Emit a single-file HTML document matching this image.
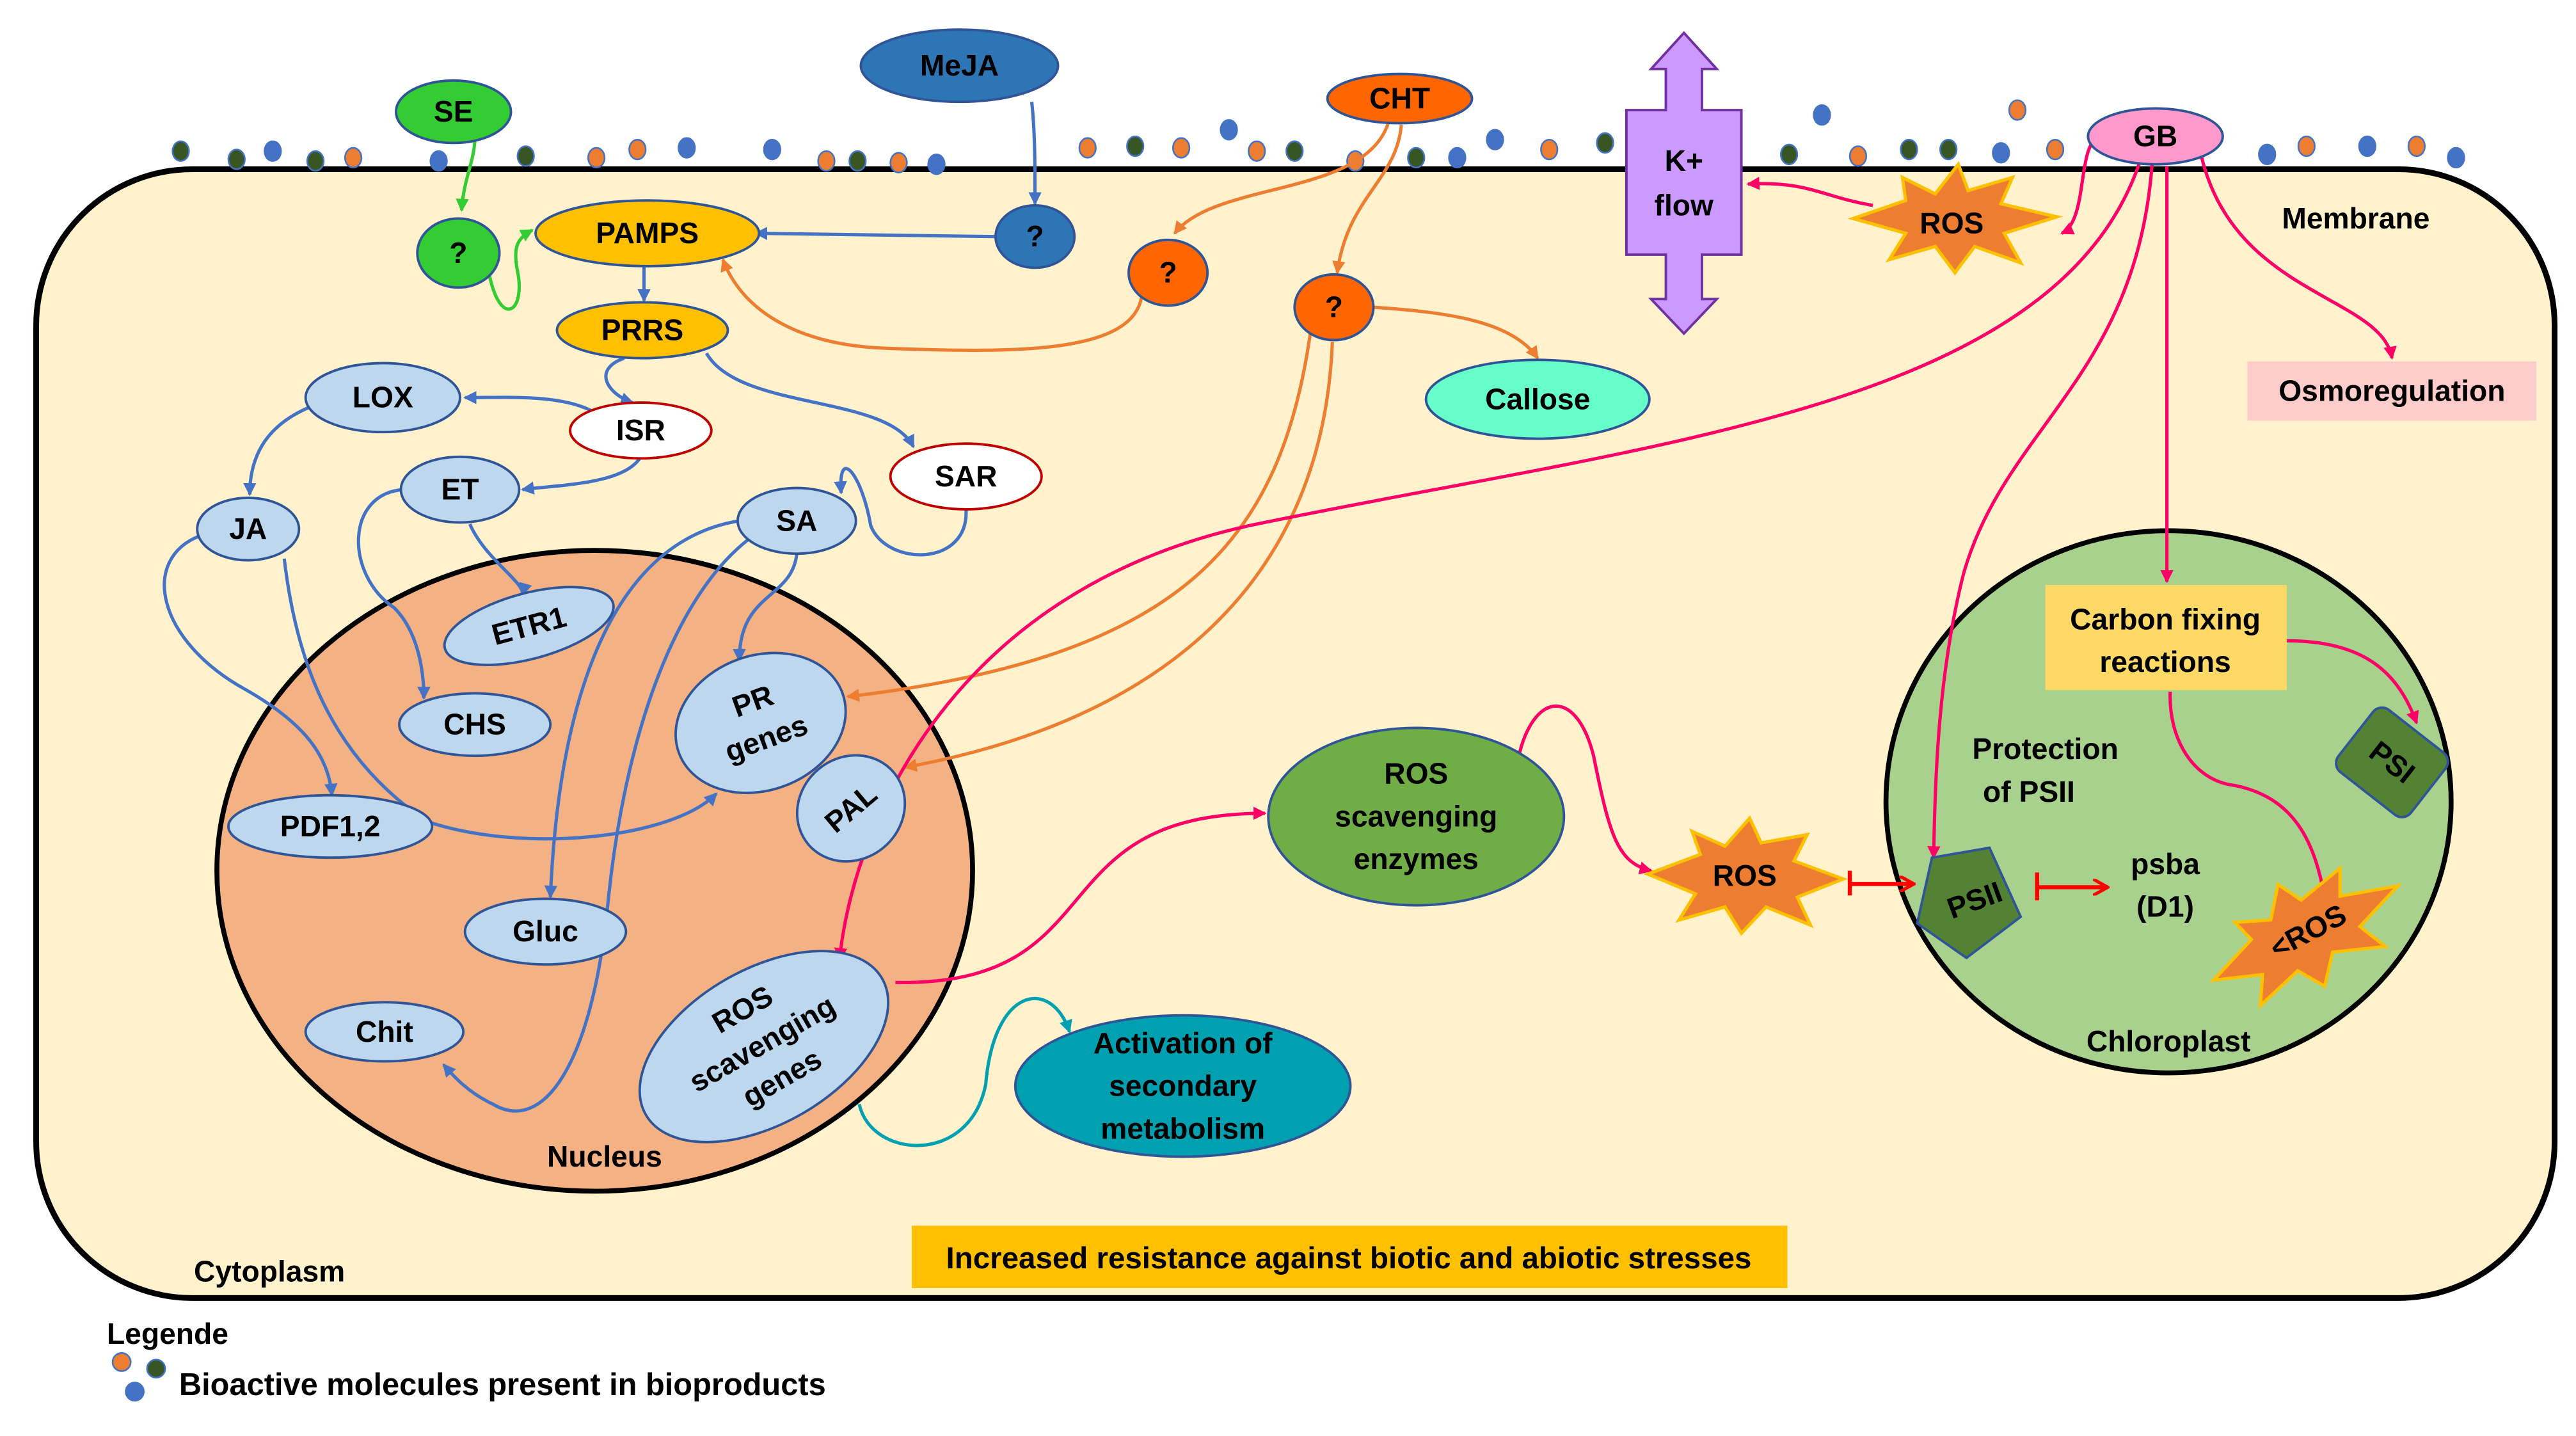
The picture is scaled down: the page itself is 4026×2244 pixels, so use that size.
<!DOCTYPE html>
<html><head><meta charset="utf-8"><style>
html,body{margin:0;padding:0;background:#fff;}
svg{display:block;}
text{font-family:"Liberation Sans",sans-serif;font-weight:bold;fill:#000;}
</style></head><body>
<svg width="4026" height="2244" viewBox="0 0 1568 874" xmlns="http://www.w3.org/2000/svg">
<defs>
<marker id="ab" markerWidth="8" markerHeight="8" refX="7" refY="4" orient="auto" markerUnits="userSpaceOnUse"><path d="M0,0 L8,4 L0,8 z" fill="#4472c4"/></marker>
<marker id="ao" markerWidth="8" markerHeight="8" refX="7" refY="4" orient="auto" markerUnits="userSpaceOnUse"><path d="M0,0 L8,4 L0,8 z" fill="#ed7d31"/></marker>
<marker id="ap" markerWidth="8" markerHeight="8" refX="7" refY="4" orient="auto" markerUnits="userSpaceOnUse"><path d="M0,0 L8,4 L0,8 z" fill="#ff0066"/></marker>
<marker id="at" markerWidth="8" markerHeight="8" refX="7" refY="4" orient="auto" markerUnits="userSpaceOnUse"><path d="M0,0 L8,4 L0,8 z" fill="#00a0b0"/></marker>
<marker id="ag" markerWidth="8" markerHeight="8" refX="7" refY="4" orient="auto" markerUnits="userSpaceOnUse"><path d="M0,0 L8,4 L0,8 z" fill="#33cc33"/></marker>
<marker id="ar" markerWidth="10" markerHeight="10" refX="9" refY="5" orient="auto" markerUnits="userSpaceOnUse"><path d="M0,0 L9,5 L0,10" fill="none" stroke="#ff0000" stroke-width="2"/></marker>
</defs>
<rect x="22" y="103" width="1533" height="687" rx="95" ry="95" fill="#fff2cc" stroke="#000" stroke-width="3.5"/>
<g stroke="#4472c4" stroke-width="1">
<ellipse cx="110" cy="92" rx="5" ry="6" fill="#375623"/>
<ellipse cx="144" cy="97" rx="5" ry="6" fill="#375623"/>
<ellipse cx="166" cy="92" rx="5" ry="6" fill="#4472c4"/>
<ellipse cx="192" cy="98" rx="5" ry="6" fill="#375623"/>
<ellipse cx="215" cy="96" rx="5" ry="6" fill="#ed7d31"/>
<ellipse cx="267" cy="98" rx="5" ry="6" fill="#4472c4"/>
<ellipse cx="320" cy="95" rx="5" ry="6" fill="#375623"/>
<ellipse cx="363" cy="96" rx="5" ry="6" fill="#ed7d31"/>
<ellipse cx="388" cy="91" rx="5" ry="6" fill="#ed7d31"/>
<ellipse cx="418" cy="90" rx="5" ry="6" fill="#4472c4"/>
<ellipse cx="470" cy="91" rx="5" ry="6" fill="#4472c4"/>
<ellipse cx="503" cy="98" rx="5" ry="6" fill="#ed7d31"/>
<ellipse cx="522" cy="98" rx="5" ry="6" fill="#375623"/>
<ellipse cx="547" cy="99" rx="5" ry="6" fill="#ed7d31"/>
<ellipse cx="570" cy="100" rx="5" ry="6" fill="#4472c4"/>
<ellipse cx="662" cy="90" rx="5" ry="6" fill="#ed7d31"/>
<ellipse cx="691" cy="89" rx="5" ry="6" fill="#375623"/>
<ellipse cx="719" cy="90" rx="5" ry="6" fill="#ed7d31"/>
<ellipse cx="748" cy="79" rx="5" ry="6" fill="#4472c4"/>
<ellipse cx="765" cy="92" rx="5" ry="6" fill="#ed7d31"/>
<ellipse cx="788" cy="92" rx="5" ry="6" fill="#375623"/>
<ellipse cx="825" cy="98" rx="5" ry="6" fill="#ed7d31"/>
<ellipse cx="862" cy="96" rx="5" ry="6" fill="#375623"/>
<ellipse cx="887" cy="96" rx="5" ry="6" fill="#4472c4"/>
<ellipse cx="910" cy="85" rx="5" ry="6" fill="#4472c4"/>
<ellipse cx="943" cy="91" rx="5" ry="6" fill="#ed7d31"/>
<ellipse cx="977" cy="87" rx="5" ry="6" fill="#375623"/>
<ellipse cx="1089" cy="94" rx="5" ry="6" fill="#375623"/>
<ellipse cx="1109" cy="70" rx="5" ry="6" fill="#4472c4"/>
<ellipse cx="1131" cy="95" rx="5" ry="6" fill="#ed7d31"/>
<ellipse cx="1162" cy="91" rx="5" ry="6" fill="#375623"/>
<ellipse cx="1186" cy="91" rx="5" ry="6" fill="#375623"/>
<ellipse cx="1218" cy="93" rx="5" ry="6" fill="#4472c4"/>
<ellipse cx="1228" cy="67" rx="5" ry="6" fill="#ed7d31"/>
<ellipse cx="1251" cy="91" rx="5" ry="6" fill="#ed7d31"/>
<ellipse cx="1380" cy="94" rx="5" ry="6" fill="#4472c4"/>
<ellipse cx="1404" cy="89" rx="5" ry="6" fill="#ed7d31"/>
<ellipse cx="1441" cy="89" rx="5" ry="6" fill="#4472c4"/>
<ellipse cx="1471" cy="89" rx="5" ry="6" fill="#ed7d31"/>
<ellipse cx="1495" cy="96" rx="5" ry="6" fill="#4472c4"/>
</g>
<ellipse cx="362" cy="530" rx="230" ry="195" fill="#f4b183" stroke="#000" stroke-width="3"/>
<ellipse cx="1320" cy="488" rx="172" ry="165" fill="#a9d18e" stroke="#000" stroke-width="3"/>

<g fill="none" stroke="#4472c4" stroke-width="2">
<path d="M606,144 L460,142" marker-end="url(#ab)"/>
<path d="M628,62 C630,80 630,100 630,124" marker-end="url(#ab)"/>
<path d="M392,160 L392,183" marker-end="url(#ab)"/>
<path d="M380,218 C360,225 370,240 385,245" marker-end="url(#ab)"/>
<path d="M430,215 C450,250 540,240 556,272" marker-end="url(#ab)"/>
<path d="M360,250 C340,240 310,242 283,242" marker-end="url(#ab)"/>
<path d="M390,278 C380,295 340,295 318,298" marker-end="url(#ab)"/>
<path d="M188,248 C160,260 152,280 152,301" marker-end="url(#ab)"/>
<path d="M246,298 C210,300 210,350 240,370 C255,385 258,410 258,425" marker-end="url(#ab)"/>
<path d="M286,319 C295,340 320,355 318,362" marker-end="url(#ab)"/>
<path d="M122,326 C85,340 95,390 150,420 C185,440 200,460 202,484" marker-end="url(#ab)"/>
<path d="M173,340 C180,400 200,460 260,500 C320,520 410,510 436,483" marker-end="url(#ab)"/>
<path d="M588,310 C590,345 540,345 530,320 C525,290 510,270 512,300" marker-end="url(#ab)"/>
<path d="M485,337 C482,365 450,360 450,402" marker-end="url(#ab)"/>
<path d="M450,317 C370,330 340,430 335,546" marker-end="url(#ab)"/>
<path d="M460,325 C410,360 380,450 370,550 C360,650 330,690 300,672 C285,665 276,655 270,648" marker-end="url(#ab)"/>
</g>
<g fill="none" stroke="#33cc33" stroke-width="2">
<path d="M289,86 C288,100 282,110 281,128" marker-end="url(#ag)"/>
<path d="M298,168 C305,200 320,190 315,165 C312,150 315,145 324,140" marker-end="url(#ag)"/>
</g>
<g fill="none" stroke="#ed7d31" stroke-width="2">
<path d="M845,75 C830,120 740,110 715,142" marker-end="url(#ao)"/>
<path d="M695,180 C690,215 620,215 540,212 C480,210 450,185 440,158" marker-end="url(#ao)"/>
<path d="M853,76 C850,110 820,120 814,166" marker-end="url(#ao)"/>
<path d="M836,187 C880,190 920,195 936,218" marker-end="url(#ao)"/>
<path d="M798,200 C780,330 720,400 516,424" marker-end="url(#ao)"/>
<path d="M811,208 C805,360 700,440 551,467" marker-end="url(#ao)"/>
</g>
<g fill="none" stroke="#ff0066" stroke-width="2">
<path d="M1140,125 C1110,120 1100,110 1064,112" marker-end="url(#ap)"/>
<path d="M1275,85 C1265,95 1270,135 1255,142" marker-end="url(#ap)"/>
<path d="M1340,95 C1360,180 1450,180 1456,218" marker-end="url(#ap)"/>
<path d="M1319,101 L1319,354" marker-end="url(#ap)"/>
<path d="M1310,100 C1300,230 1220,260 1195,350 C1180,410 1178,470 1177,522" marker-end="url(#ap)"/>
<path d="M1302,100 C1250,250 1000,270 760,320 C580,360 520,500 511,584" marker-end="url(#ap)"/>
<path d="M545,598 C680,600 630,495 770,495" marker-end="url(#ap)"/>
<path d="M925,458 C935,420 960,420 970,460 C980,510 985,525 1005,530" marker-end="url(#ap)"/>
<path d="M1392,390 C1440,390 1460,410 1471,440" marker-end="url(#ap)"/>
<path d="M1321,421 C1320,450 1335,475 1360,478 C1395,485 1410,510 1416,553" marker-end="url(#ap)"/>
</g>
<path d="M523,672 C530,705 590,710 600,660 C605,600 640,595 651,628" fill="none" stroke="#00a0b0" stroke-width="2" marker-end="url(#at)"/>
<g stroke="#ff0000" stroke-width="2.5" fill="none">
<line x1="1126" y1="530" x2="1126" y2="545"/>
<line x1="1127" y1="538" x2="1165" y2="538" marker-end="url(#ar)"/>
<line x1="1240" y1="531" x2="1240" y2="548"/>
<line x1="1241" y1="540" x2="1283" y2="540" marker-end="url(#ar)"/>
</g>

<path d="M1025,20 L1045,42 L1036,42 L1036,67 L1060,67 L1060,155 L1036,155 L1036,182 L1045,182 L1025,203 L1005,182 L1014,182 L1014,155 L990,155 L990,67 L1014,67 L1014,42 L1005,42 Z" fill="#cc99ff" stroke="#7030a0" stroke-width="1.5"/>
<text x="1025" y="104" font-size="18" text-anchor="middle">K+</text>
<text x="1025" y="131" font-size="18" text-anchor="middle">flow</text>

<g fill="#ed7d31" stroke="#ffc000" stroke-width="2">
<path d="M1128,133 L1160,122 L1158,108 L1178,118 L1192,100 L1198,116 L1225,108 L1218,124 L1252,132 L1220,142 L1230,160 L1202,150 L1190,166 L1178,150 L1150,158 L1160,142 Z"/>
<path d="M1003,532 L1035,520 L1030,506 L1050,515 L1065,498 L1072,513 L1100,508 L1092,524 L1122,535 L1094,546 L1102,563 L1075,552 L1060,568 L1050,552 L1022,560 L1032,544 Z"/>
<path transform="rotate(-28 1403 567)" d="M1340,567 L1372,556 L1368,542 L1388,551 L1402,534 L1410,549 L1440,543 L1432,558 L1466,569 L1434,580 L1442,598 L1412,586 L1398,602 L1388,586 L1358,594 L1368,578 Z"/>
</g>
<text x="1188" y="142" font-size="18" text-anchor="middle">ROS</text>
<text x="1062" y="539" font-size="18" text-anchor="middle">ROS</text>
<text x="1405" y="573" font-size="18" text-anchor="middle" transform="rotate(-28 1405 567)">&lt;ROS</text>

<ellipse cx="276" cy="68" rx="35" ry="19" fill="#33cc33" stroke="#2f5597" stroke-width="1.5"/>
<text x="276" y="74" font-size="18" text-anchor="middle">SE</text>
<ellipse cx="279" cy="154" rx="25" ry="21" fill="#33cc33" stroke="#2f5597" stroke-width="1.5"/>
<text x="279" y="160" font-size="18" text-anchor="middle">?</text>
<ellipse cx="584" cy="40" rx="60" ry="22" fill="#2e75b6" stroke="#2f5597" stroke-width="1.5"/>
<text x="584" y="46" font-size="18" text-anchor="middle">MeJA</text>
<ellipse cx="630" cy="144" rx="24" ry="19" fill="#2e75b6" stroke="#2f5597" stroke-width="1.5"/>
<text x="630" y="150" font-size="18" text-anchor="middle">?</text>
<ellipse cx="852" cy="60" rx="44" ry="15" fill="#ff6600" stroke="#2f5597" stroke-width="1.5"/>
<text x="852" y="66" font-size="18" text-anchor="middle">CHT</text>
<ellipse cx="711" cy="166" rx="24" ry="20" fill="#ff6600" stroke="#2f5597" stroke-width="1.5"/>
<text x="711" y="172" font-size="18" text-anchor="middle">?</text>
<ellipse cx="812" cy="187" rx="24" ry="20" fill="#ff6600" stroke="#2f5597" stroke-width="1.5"/>
<text x="812" y="193" font-size="18" text-anchor="middle">?</text>
<ellipse cx="936" cy="243" rx="68" ry="24" fill="#66ffcc" stroke="#2f5597" stroke-width="1.5"/>
<text x="936" y="249" font-size="18" text-anchor="middle">Callose</text>
<ellipse cx="1312" cy="83" rx="41" ry="17" fill="#ff99cc" stroke="#2f5597" stroke-width="1.5"/>
<text x="1312" y="89" font-size="18" text-anchor="middle">GB</text>
<ellipse cx="394" cy="142" rx="68" ry="20" fill="#ffc000" stroke="#2f5597" stroke-width="1.5"/>
<text x="394" y="148" font-size="18" text-anchor="middle">PAMPS</text>
<ellipse cx="391" cy="201" rx="52" ry="17" fill="#ffc000" stroke="#2f5597" stroke-width="1.5"/>
<text x="391" y="207" font-size="18" text-anchor="middle">PRRS</text>
<ellipse cx="390" cy="262" rx="43" ry="17" fill="#fff" stroke="#c00000" stroke-width="1.5"/>
<text x="390" y="268" font-size="18" text-anchor="middle">ISR</text>
<ellipse cx="588" cy="290" rx="46" ry="20" fill="#fff" stroke="#c00000" stroke-width="1.5"/>
<text x="588" y="296" font-size="18" text-anchor="middle">SAR</text>

<g fill="#bdd7ee" stroke="#2f5597" stroke-width="1.5">
<ellipse cx="233" cy="242" rx="47" ry="21"/>
<ellipse cx="151" cy="322" rx="31" ry="19"/>
<ellipse cx="280" cy="298" rx="36" ry="20"/>
<ellipse cx="485" cy="317" rx="36" ry="20"/>
<ellipse cx="322" cy="381" rx="53" ry="20" transform="rotate(-15 322 381)"/>
<ellipse cx="289" cy="441" rx="46" ry="19"/>
<ellipse cx="201" cy="503" rx="62" ry="19"/>
<ellipse cx="463" cy="440" rx="53" ry="41" transform="rotate(-20 463 440)"/>
<ellipse cx="518" cy="492" rx="34" ry="31" transform="rotate(-40 518 492)"/>
<ellipse cx="332" cy="567" rx="49" ry="20"/>
<ellipse cx="234" cy="628" rx="48" ry="18"/>
<ellipse cx="465" cy="637" rx="83" ry="47" transform="rotate(-30 465 637)"/>
</g>
<g font-size="18" text-anchor="middle">
<text x="233" y="248">LOX</text>
<text x="151" y="328">JA</text>
<text x="280" y="304">ET</text>
<text x="485" y="323">SA</text>
<text x="322" y="387" transform="rotate(-15 322 381)">ETR1</text>
<text x="289" y="447">CHS</text>
<text x="201" y="509">PDF1,2</text>
<text transform="rotate(-20 463 440)"><tspan x="463" y="432">PR</tspan><tspan x="463" y="456">genes</tspan></text>
<text x="518" y="498" transform="rotate(-40 518 492)">PAL</text>
<text x="332" y="573">Gluc</text>
<text x="234" y="634">Chit</text>
<text transform="rotate(-30 465 637)"><tspan x="465" y="617">ROS</tspan><tspan x="465" y="641">scavenging</tspan><tspan x="465" y="665">genes</tspan></text>
</g>

<ellipse cx="862" cy="497" rx="90" ry="54" fill="#70ad47" stroke="#2f5597" stroke-width="1.5"/>
<g font-size="18" text-anchor="middle"><text x="862" y="477">ROS</text><text x="862" y="503">scavenging</text><text x="862" y="529">enzymes</text></g>
<ellipse cx="720" cy="661" rx="102" ry="43" fill="#00a0b0" stroke="#2f5597" stroke-width="1.5"/>
<g font-size="18" text-anchor="middle"><text x="720" y="641">Activation of</text><text x="720" y="667">secondary</text><text x="720" y="693">metabolism</text></g>
<rect x="1368" y="220" width="176" height="36" fill="#ffcccc"/>
<text x="1456" y="244" font-size="18" text-anchor="middle">Osmoregulation</text>
<rect x="1245" y="356" width="147" height="64" fill="#ffd966"/>
<g font-size="18" text-anchor="middle"><text x="1318" y="383">Carbon fixing</text><text x="1318" y="409">reactions</text></g>
<rect x="555" y="746" width="533" height="38" fill="#ffc000"/>
<text x="821" y="772" font-size="18.5" text-anchor="middle">Increased resistance against biotic and abiotic stresses</text>

<rect x="1428" y="440" width="56" height="48" rx="7" fill="#548235" stroke="#2f5597" stroke-width="1.5" transform="rotate(38 1456 464)"/>
<text x="1456" y="470" font-size="18" text-anchor="middle" transform="rotate(38 1456 464)">PSI</text>
<path d="M1176,522 L1211,516 L1230,558 L1197,583 L1167,562 Z" fill="#548235" stroke="#2f5597" stroke-width="1.5"/>
<text x="1202" y="554" font-size="18" text-anchor="middle" transform="rotate(-20 1202 548)">PSII</text>

<g font-size="18" text-anchor="middle">
<text x="1245" y="462">Protection</text><text x="1235" y="488">of PSII</text>
<text x="1318" y="532">psba</text><text x="1318" y="558">(D1)</text>
<text x="1320" y="640">Chloroplast</text>
<text x="1434" y="139">Membrane</text>
<text x="368" y="710">Nucleus</text>
<text x="164" y="780">Cytoplasm</text>
</g>
<text x="65" y="818" font-size="18">Legende</text>
<circle cx="74" cy="829" r="5.5" fill="#ed7d31" stroke="#4472c4"/>
<circle cx="95" cy="833" r="5.5" fill="#375623" stroke="#4472c4"/>
<circle cx="82" cy="847" r="5.5" fill="#4472c4" stroke="#4472c4"/>
<text x="109" y="849" font-size="19">Bioactive molecules present in bioproducts</text>
</svg>
</body></html>
